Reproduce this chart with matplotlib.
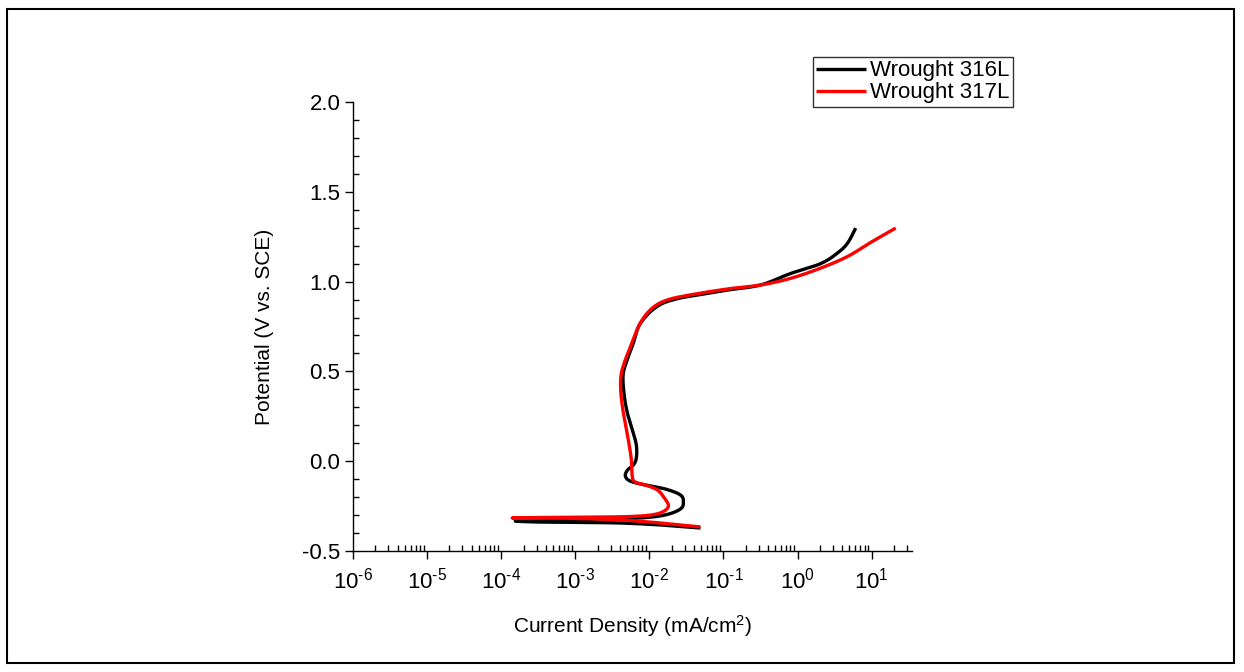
import numpy as np
import matplotlib
matplotlib.use("Agg")
import matplotlib.pyplot as plt
from matplotlib.patches import Rectangle
from matplotlib.ticker import LogLocator, FixedLocator, MultipleLocator, FuncFormatter

plt.rcParams['font.family'] = ['Liberation Sans', 'DejaVu Sans']
plt.rcParams['mathtext.fontset'] = 'custom'
plt.rcParams['mathtext.rm'] = 'Liberation Sans'
plt.rcParams['mathtext.it'] = 'Liberation Sans'
plt.rcParams['axes.unicode_minus'] = False

# Wrought 316L: log10(current density, mA/cm2) and potential (V vs SCE)
logi_316 = [-1.311, -1.851, -2.392, -2.932, -3.473, -3.81,
            -3.338, -2.662, -2.122, -1.784, -1.581, -1.541, -1.581, -1.784,
            -2.054, -2.257, -2.324, -2.297, -2.216, -2.176, -2.176, -2.230,
            -2.297, -2.340, -2.355, -2.300, -2.216, -2.149, -2.054, -1.959,
            -1.811, -1.581, -1.351, -0.946, -0.500, -0.095, 0.311, 0.541,
            0.676, 0.784]
e_316 = [-0.372, -0.355, -0.344, -0.341, -0.339, -0.333,
         -0.327, -0.322, -0.316, -0.299, -0.266, -0.227, -0.188, -0.155,
         -0.133, -0.111, -0.083, -0.050, -0.021, 0.018, 0.090, 0.174,
         0.268, 0.369, 0.480, 0.564, 0.658, 0.747, 0.803, 0.842,
         0.881, 0.909, 0.925, 0.953, 0.981, 1.045, 1.100, 1.160,
         1.215, 1.298]

# Wrought 317L
logi_317 = [-1.311, -1.851, -2.392, -2.932, -3.473, -3.851,
            -3.338, -2.662, -2.257, -1.986, -1.824, -1.743, -1.797, -1.892,
            -2.054, -2.189, -2.230, -2.243, -2.284, -2.351, -2.385, -2.385,
            -2.345, -2.257, -2.122, -1.959, -1.757, -1.446, -0.946, -0.500,
            -0.095, 0.311, 0.676, 0.986, 1.324]
e_317 = [-0.366, -0.344, -0.327, -0.319, -0.316, -0.316,
         -0.313, -0.311, -0.308, -0.300, -0.283, -0.250, -0.205, -0.160,
         -0.133, -0.116, -0.088, 0.007, 0.118, 0.268, 0.380, 0.470,
         0.540, 0.636, 0.770, 0.853, 0.898, 0.926, 0.959, 0.981,
         1.018, 1.075, 1.140, 1.218, 1.298]

series = [("Wrought 316L", logi_316, e_316, "black"),
          ("Wrought 317L", logi_317, e_317, "#ff0000")]

x_ticks = [1e-6, 1e-5, 1e-4, 1e-3, 1e-2, 1e-1, 1e0, 1e1]
y_ticks = [-0.5, 0.0, 0.5, 1.0, 1.5, 2.0]


def smooth(lx, ly, n=12):
    """Catmull-Rom interpolation for smooth display of traced points."""
    P = np.column_stack([lx, ly])
    P = np.vstack([P[0], P, P[-1]])
    out = []
    for k in range(1, len(P) - 2):
        p0, p1, p2, p3 = P[k - 1], P[k], P[k + 1], P[k + 2]
        for t in np.linspace(0, 1, n, endpoint=False):
            t2, t3 = t * t, t * t * t
            pt = 0.5 * ((2 * p1) + (-p0 + p2) * t + (2 * p0 - 5 * p1 + 4 * p2 - p3) * t2
                        + (-p0 + 3 * p1 - 3 * p2 + p3) * t3)
            out.append(pt)
    out.append(P[-2])
    out = np.array(out)
    return out[:, 0], out[:, 1]


def xfmt(v, p):
    e = int(round(np.log10(v)))
    if e < 0:
        return r'$10^{\text{-}%d}$' % (-e)
    return r'$10^{%d}$' % e


fig = plt.figure(figsize=(12.44, 6.72), dpi=100)
fig.patches.append(Rectangle((7 / 1244, 1 - 663 / 672), (1234 - 7) / 1244, (663 - 9) / 672,
                             transform=fig.transFigure, fill=False, edgecolor='black',
                             linewidth=1.5))
ax = fig.add_axes([353 / 1244, 1 - 551 / 672, (912 - 353) / 1244, (551 - 102) / 672])

for name, lx, ly, col in series:
    sx, sy = smooth(lx, ly)
    ax.plot(10 ** sx, sy, color=col, lw=2.4, label=name, solid_capstyle='butt')

ax.set_xscale('log')
ax.set_xlim(1e-6, 35)
ax.set_ylim(-0.5, 2.0)
ax.xaxis.set_major_locator(FixedLocator(x_ticks))
ax.xaxis.set_minor_locator(LogLocator(base=10, subs=np.arange(2, 10), numticks=30))
ax.xaxis.set_major_formatter(FuncFormatter(xfmt))
ax.yaxis.set_major_locator(FixedLocator(y_ticks))
ax.yaxis.set_minor_locator(MultipleLocator(0.1))
ax.yaxis.set_major_formatter(FuncFormatter(lambda v, p: '%.1f' % v))

for s in ['top', 'right']:
    ax.spines[s].set_visible(False)
for s in ['left', 'bottom']:
    ax.spines[s].set_linewidth(1.0)

ax.tick_params(which='major', direction='out', length=6, width=1.0, labelsize=16, pad=3)
ax.tick_params(axis='x', which='major', pad=6)
ax.tick_params(which='minor', direction='in', length=4, width=1.0)

ax.set_xlabel(r'Current Density (mA/cm$^2$)', fontsize=15, labelpad=14)
ax.set_ylabel('Potential (V vs. SCE)', fontsize=15, labelpad=20)

leg = ax.legend(loc='upper right', bbox_to_anchor=(1013 / 1244, 1 - 57 / 672),
                bbox_transform=fig.transFigure, frameon=True, fancybox=False,
                fontsize=16, handlelength=2.25, handletextpad=0.2, borderpad=0.15,
                labelspacing=0.05, borderaxespad=0, handleheight=0.6)
leg.get_frame().set_edgecolor('black')
leg.get_frame().set_linewidth(1.0)

fig.savefig('out.png', dpi=100)
